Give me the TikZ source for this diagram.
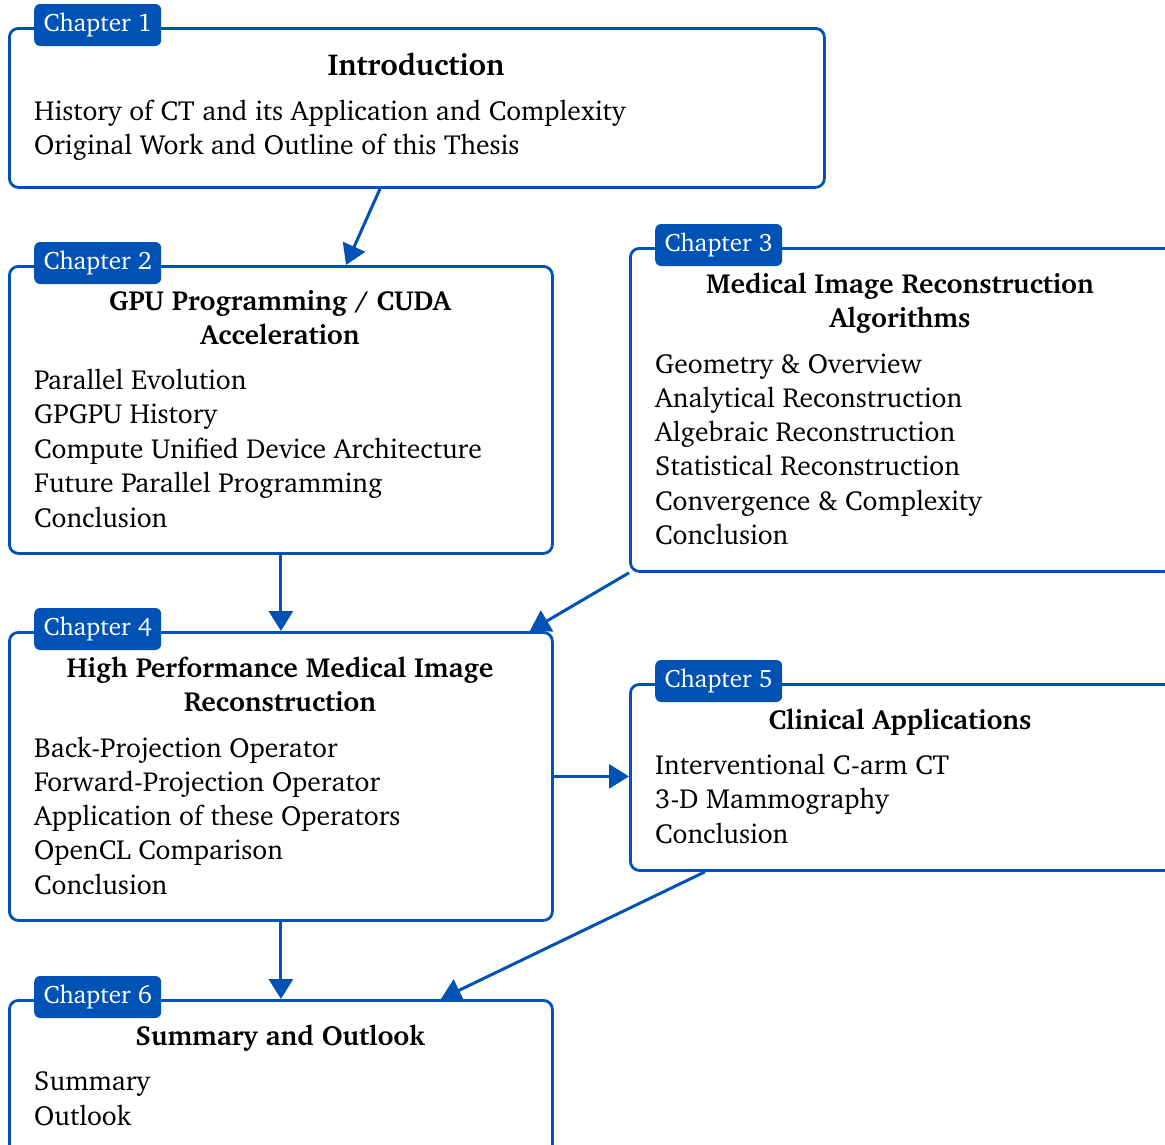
\documentclass[tikz,border=0pt]{standalone}
\usepackage[T1]{fontenc}
\renewcommand{\rmdefault}{bch}
\usetikzlibrary{arrows.meta}
\definecolor{chapblue}{RGB}{0,82,180}
\begin{document}
\begin{tikzpicture}[x=1pt,y=-1pt,
  every node/.style={font=\fontsize{27.6}{34}\selectfont},
  chapbox/.style={draw=chapblue, line width=2.8pt, rounded corners=9pt,
    anchor=north west, inner sep=0pt, minimum width=543pt},
  chaptag/.style={fill=chapblue, text=white, rounded corners=6pt, anchor=west,
    minimum height=42pt, minimum width=127pt, inner sep=0pt,
    font=\fontsize{25.2}{30}\selectfont},
  headline/.style={font=\fontsize{27.6}{34}\selectfont\bfseries, anchor=base, inner sep=0pt},
  bodyline/.style={anchor=base west, inner sep=0pt},
  link/.style={draw=chapblue, line width=3pt,
    -{Triangle[length=20pt,width=24pt]}}
]
\clip (0,0) rectangle (1165,1144);

% chapter frames
\node[chapbox, minimum width=815pt, minimum height=159pt] (c1) at (8,27) {};
\node[chapbox, minimum height=287pt] (c2) at (8,265) {};
\node[chapbox, minimum height=323pt] (c3) at (629,247) {};
\node[chapbox, minimum height=288pt] (c4) at (8,631) {};
\node[chapbox, minimum height=186pt] (c5) at (629,683) {};
\node[chapbox, minimum height=200pt] (c6) at (8,999) {};

% chapter tags
\node[chaptag] (t1) at (34,25) {Chapter 1};
\node[chaptag] (t2) at (34,263) {Chapter 2};
\node[chaptag] (t3) at (655,245) {Chapter 3};
\node[chaptag] (t4) at (34,629) {Chapter 4};
\node[chaptag] (t5) at (655,681) {Chapter 5};
\node[chaptag] (t6) at (34,997) {Chapter 6};

% chapter 1
\node[headline, font=\fontsize{30.3}{36}\selectfont\bfseries] (h1) at (416,75) {Introduction};
\foreach \t [count=\i] in {History of CT and its Application and Complexity,
  Original Work and Outline of this Thesis}
  \node[bodyline] (b1-\i) at (34,120+34*\i-34) {\t};

% chapter 2
\foreach \t [count=\i] in {GPU Programming / CUDA, Acceleration}
  \node[headline] (h2-\i) at (280,310+34*\i-34) {\t};
\foreach \t [count=\i] in {Parallel Evolution, GPGPU History,
  Compute Unified Device Architecture, Future Parallel Programming, Conclusion}
  \node[bodyline] (b2-\i) at (34,389+34.5*\i-34.5) {\t};

% chapter 3
\foreach \t [count=\i] in {Medical Image Reconstruction, Algorithms}
  \node[headline] (h3-\i) at (900,293+34*\i-34) {\t};
\foreach \t [count=\i] in {Geometry \& Overview, Analytical Reconstruction,
  Algebraic Reconstruction, Statistical Reconstruction,
  Convergence \& Complexity, Conclusion}
  \node[bodyline] (b3-\i) at (655,373+34.3*\i-34.3) {\t};

% chapter 4
\foreach \t [count=\i] in {High Performance Medical Image, Reconstruction}
  \node[headline] (h4-\i) at (280,677+34*\i-34) {\t};
\foreach \t [count=\i] in {Back-Projection Operator, Forward-Projection Operator,
  Application of these Operators, OpenCL Comparison, Conclusion}
  \node[bodyline] (b4-\i) at (34,757+34.3*\i-34.3) {\t};

% chapter 5
\node[headline] (h5) at (900,729) {Clinical Applications};
\foreach \t [count=\i] in {Interventional C-arm CT, 3-D Mammography, Conclusion}
  \node[bodyline] (b5-\i) at (655,774+34.5*\i-34.5) {\t};

% chapter 6
\node[headline] (h6) at (280,1045) {Summary and Outlook};
\foreach \t [count=\i] in {Summary, Outlook}
  \node[bodyline] (b6-\i) at (34,1090+35*\i-35) {\t};

% reading order
\draw[link] ([xshift=372pt]c1.south west) -- ([xshift=338pt]c2.north west);
\draw[link] (c2.south) -- (c4.north);
\draw[link] (c3.south west) -- ([xshift=-24pt]c4.north east);
\draw[link] (c4.east) -- (c4.east -| c5.west);
\draw[link] ([xshift=76pt]c5.south west) -- ([xshift=433pt]c6.north west);
\draw[link] (c4.south) -- (c6.north);
\end{tikzpicture}
\end{document}
